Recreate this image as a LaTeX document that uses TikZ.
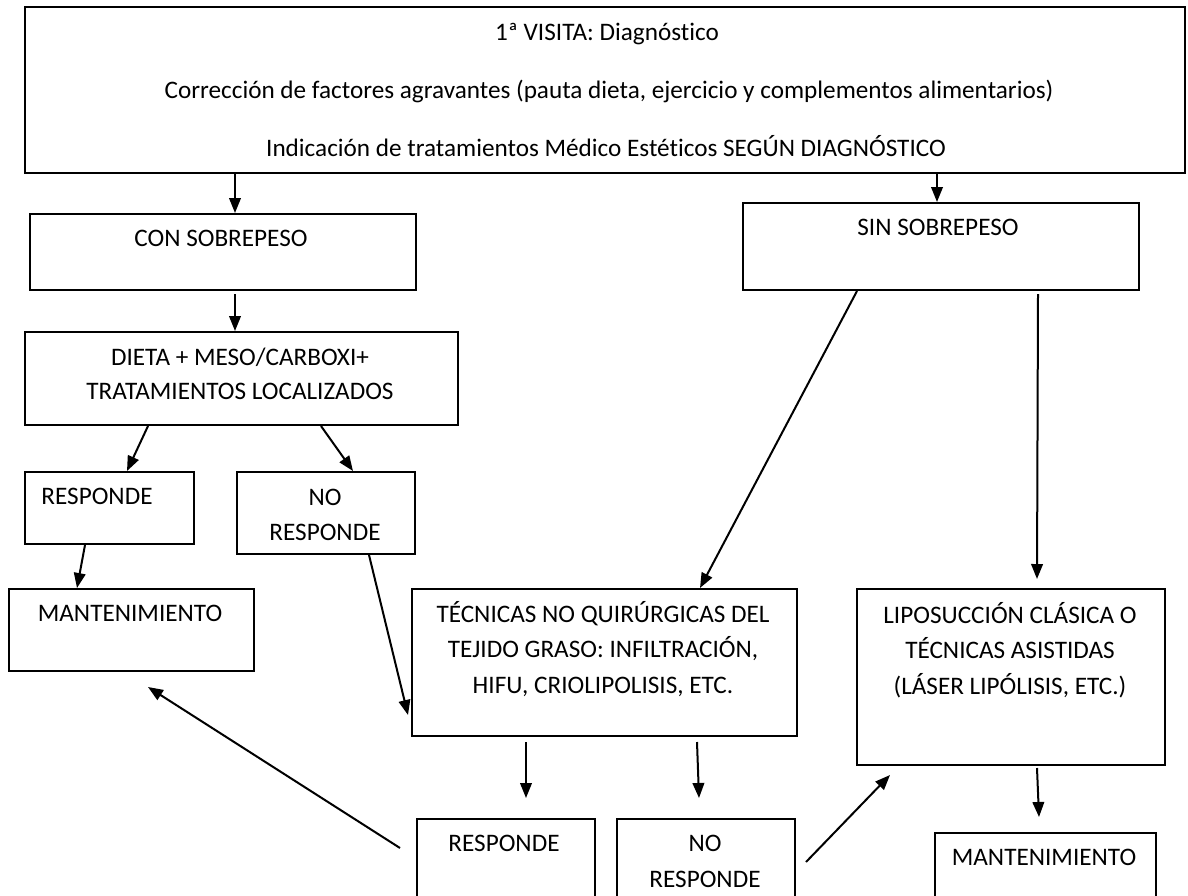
\documentclass[tikz,border=0pt]{standalone}
\usepackage{fontspec}
\setmainfont[Ligatures=NoCommon]{Carlito}
\usetikzlibrary{arrows.meta}
\begin{document}
\begin{tikzpicture}[x=0.5pt,y=-0.5pt,
  box/.style={draw=black, line width=1pt, rectangle, inner sep=0pt, anchor=north west},
  txt/.style={inner sep=0pt, anchor=base, font=\fontsize{12.6}{15}\selectfont, text=black},
  arr/.style={line width=1pt, -{Triangle[length=7.5pt,width=5.8pt]}}]
\useasboundingbox (0,0) rectangle (1188,895);
\fill[white] (0,0) rectangle (1188,895);
\clip (0,0) rectangle (1188,895);
% boxes
\node[box, minimum width=580pt, minimum height=83pt] (top) at (24,6) {};
\node[box, minimum width=193pt, minimum height=38pt] (con) at (29,213) {};
\node[box, minimum width=198pt, minimum height=43.5pt] (sin) at (742,202) {};
\node[box, minimum width=216.5pt, minimum height=46.5pt] (dieta) at (24,331) {};
\node[box, minimum width=84.5pt, minimum height=36pt] (resp1) at (24,471) {};
\node[box, minimum width=89pt, minimum height=41pt] (nores1) at (236,471) {};
\node[box, minimum width=122.5pt, minimum height=41pt] (mant1) at (8,588) {};
\node[box, minimum width=192.5pt, minimum height=73.5pt] (tec) at (411,588) {};
\node[box, minimum width=154pt, minimum height=88pt] (lipo) at (856,588) {};
\node[box, minimum width=89pt, minimum height=50pt] (resp2) at (416,818) {};
\node[box, minimum width=89pt, minimum height=50pt] (nores2) at (616,818) {};
\node[box, minimum width=110.5pt, minimum height=45pt] (mant2) at (934,832) {};
% texts
\node[txt] (t1) at (607,40) {1ª VISITA: Diagnóstico};
\node[txt] (t2) at (609,98) {Corrección de factores agravantes (pauta dieta, ejercicio y complementos alimentarios)};
\node[txt] (t3) at (606,156) {Indicación de tratamientos Médico Estéticos SEGÚN DIAGNÓSTICO};
\node[txt] (tcon) at (221,246) {CON SOBREPESO};
\node[txt] (tsin) at (938,235) {SIN SOBREPESO};
\node[txt] (td1) at (240,365) {DIETA + MESO/CARBOXI+};
\node[txt] (td2) at (240,399) {TRATAMIENTOS LOCALIZADOS};
\node[txt] (tr1) at (97,504) {RESPONDE};
\node[txt] (tn1a) at (325,505) {NO};
\node[txt] (tn1b) at (325,540) {RESPONDE};
\node[txt] (tm1) at (130,621) {MANTENIMIENTO};
\node[txt] (tt1) at (603,622) {TÉCNICAS NO QUIRÚRGICAS DEL};
\node[txt] (tt2) at (603,657) {TEJIDO GRASO: INFILTRACIÓN,};
\node[txt] (tt3) at (603,693) {HIFU, CRIOLIPOLISIS, ETC.};
\node[txt] (tl1) at (1010,623) {LIPOSUCCIÓN CLÁSICA O};
\node[txt] (tl2) at (1010,658) {TÉCNICAS ASISTIDAS};
\node[txt] (tl3) at (1010,694) {(LÁSER LIPÓLISIS, ETC.)};
\node[txt] (tr2) at (504,851) {RESPONDE};
\node[txt] (tn2a) at (705,851) {NO};
\node[txt] (tn2b) at (705,887) {RESPONDE};
\node[txt] (tm2) at (1044,865) {MANTENIMIENTO};
% connectors
\draw[arr] ([shift={(211,0)}]top.south west) -- ([shift={(206,0)}]con.north west);
\draw[arr] ([shift={(913,0)}]top.south west) -- ([shift={(195,0)}]sin.north west);
\draw[arr] ([shift={(206,3)}]con.south west) -- ([shift={(211,0)}]dieta.north west);
\draw[arr] ([shift={(124,0)}]dieta.south west) -- ([shift={(103,0)}]resp1.north west);
\draw[arr] ([shift={(297,0)}]dieta.south west) -- ([shift={(117,0)}]nores1.north west);
\draw[arr] ([shift={(61,0)}]resp1.south west) -- ([shift={(69,0)}]mant1.north west);
\draw[arr] ([shift={(133,0)}]nores1.south west) -- ([shift={(-3,-22)}]tec.south west);
\draw[arr] ([shift={(115,0)}]sin.south west) -- ([shift={(289,0)}]tec.north west);
\draw[arr] ([shift={(296,3)}]sin.south west) -- ([shift={(181,-9)}]lipo.north west);
\draw[arr] ([shift={(115,5)}]tec.south west) -- ([shift={(110,-20)}]resp2.north west);
\draw[arr] ([shift={(286,5)}]tec.south west) -- ([shift={(83,-20)}]nores2.north west);
\draw[arr] ([shift={(-16,30)}]resp2.north west) -- ([shift={(140,15)}]mant1.south west);
\draw[arr] ([shift={(10,44)}]nores2.north east) -- ([shift={(34,9)}]lipo.south west);
\draw[arr] ([shift={(181,2)}]lipo.south west) -- ([shift={(105,-15)}]mant2.north west);
\end{tikzpicture}
\end{document}
